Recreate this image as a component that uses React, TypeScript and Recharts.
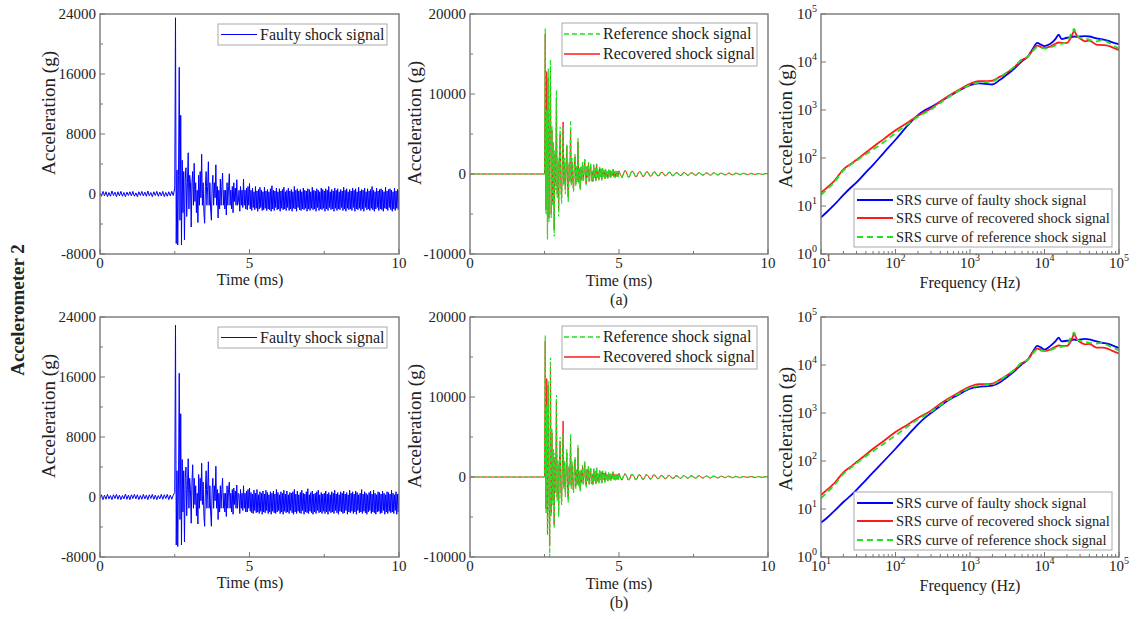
import React from "react";
import { Line, LineChart, XAxis, YAxis } from "recharts";

const FONT = "'Liberation Serif', 'Times New Roman', serif";
const FRAME = "#777";
const INK = "#222";
const BLUE = "#0000ff";
const RED = "#ff1a1a";
const GREEN = "#22e022";

// ---- time-domain sampling (ms) ----
const PRE_DT = 0.05; // 0 .. 2.45
const SHOCK_T0 = 2.5; // 2.5 .. 4.975
const SHOCK_DT = 0.025;
const TAIL_T0 = 5; // 5 .. 10
const FAULTY_TAIL_DT = 0.025;
const CLEAN_TAIL_DT = 0.05;
const QUIET_T = [0, 2.475];
const QUIET_G = [0, 0];

// faulty shock signal, (a)
const FAULTY_A_PRE = [
  150, -300, 350, -250, 300, -350, 200, -300, 400, -200,
  250, -350, 300, -250, 350, -300, 200, -350, 250, -200,
  300, -250, 350, -300, 150, -350, 300, -200, 350, -250,
  250, -300, 400, -250, 200, -350, 300, -200, 350, -300,
  250, -250, 350, -350, 200, -300, 300, -250, 350, -200,
];
const FAULTY_A_SHOCK = [
  800, 23500, -6600, 3200, -6800, 2500, 16900, -3500, 10500, -6800,
  4500, -2500, 3000, -6100, 2000, 3500, -3000, 1500, 5500, -2000,
  2500, 1500, -4400, 1500, 3000, -1500, 4100, -1000, 1500, -2500,
  500, -3800, 2500, -1500, 3000, -500, 5300, -1500, 1500, -2500,
  -3900, 1000, 3000, -1500, 1000, 4300, -1500, 1500, -2000, -3500,
  1000, 2500, -1500, 1500, -500, 3900, -1500, 1000, -3200, 500,
  -2000, 2000, -1500, 1000, 2800, -1500, 500, -2000, 500, -2800,
  1500, -1500, 1000, 2700, -1500, 500, -2000, 1000, -2500, 1500,
  -1000, 800, -1500, 1900, -1500, -1000, 500, -2300, 1000, -1500,
  500, -1800, 2000, -1500, 500, -2000, 800, -2100, 1000, -1500,
];
const FAULTY_A_TAIL = [
  1400, -2000, 500, -2200, 800, -1800, 300, -2100, 1000, -1900,
  400, -2300, 600, -2000, 900, -1800, 500, -2200, 300, -2100,
  900, -1900, 400, -2200, 600, -2000, 300, -2100, 700, -2300,
  1100, -2000, 500, -2200, 400, -1800, 800, -2100, 300, -2000,
  700, -2300, 400, -1900, 600, -2100, 900, -2000, 300, -2200,
  500, -1800, 800, -2200, 400, -2000, 600, -2300, 300, -1900,
  1000, -2000, 500, -2300, 700, -1800, 400, -2100, 600, -2200,
  300, -2000, 800, -2100, 500, -1900, 400, -2300, 700, -2000,
  600, -2200, 300, -1900, 900, -2100, 500, -2000, 400, -2300,
  700, -1800, 500, -2200, 300, -2000, 800, -2100, 600, -1900,
  400, -2300, 700, -2000, 500, -2200, 1000, -1800, 300, -2100,
  600, -2000, 400, -2300, 800, -1900, 500, -2200, 700, -2000,
  300, -2100, 600, -1800, 400, -2200, 900, -2000, 500, -2300,
  700, -1900, 300, -2100, 600, -2000, 400, -2200, 800, -1800,
  500, -2300, 700, -2000, 300, -2100, 900, -1900, 400, -2200,
  600, -2000, 500, -2300, 800, -1800, 300, -2100, 700, -2000,
  400, -2200, 600, -1900, 1000, -2100, 500, -2300, 300, -2000,
  800, -1800, 400, -2200, 600, -2000, 700, -2100, 500, -2300,
  300, -1900, 900, -2000, 400, -2200, 600, -1800, 700, -2100,
  500, -2300, 300, -2000, 800, -2200, 400, -1900, 600, -2100,
  500,
];

// reference / recovered shock signals, (a)
const REF_A_SHOCK = [
  0, 18200, -5000, 8000, -8200, 13200, -6000, 5000, 14300, -5500,
  6000, -4000, 4000, -7800, 3000, -2000, 10500, -3000, 2000, -5300,
  2500, 5900, -2000, -3700, 2000, 5900, -1500, 2000, -2500, 1000,
  3800, -2000, -3500, 1500, -1000, 6700, -1500, 2000, -1000, -2200,
  1500, 2500, -1500, 1000, -1000, 4500, -1200, 800, -2000, 1000,
  -800, 1500, -1000, 500, 2000, -800, -1400, 1000, -500, 1500,
  -1000, 600, 1300, -900, 400, -1000, 1200, -500, 800, -900,
  1300, -600, 500, -800, 900, -400, 700, -800, 800, -300,
  500, -700, 700, -400, 300, -600, 600, -300, 500, -500,
  400, -200, 700, -400, 300, -500, 400, -300, 300, -400,
];
const REF_A_TAIL = [
  300, -200, -400, 100, 400, 200, -300, -350, 200, 350,
  100, -300, -250, 200, 300, 0, -300, -200, 200, 250,
  0, -250, -150, 200, 250, 0, -200, -150, 150, 200,
  0, -200, -150, 150, 200, 0, -200, -100, 150, 150,
  0, -150, -150, 100, 150, 50, -150, -100, 100, 150,
  0, -150, -100, 100, 150, 0, -100, -100, 100, 100,
  0, -100, -100, 100, 100, 0, -100, -50, 100, 100,
  0, -100, -50, 50, 100, 0, -100, -50, 50, 100,
  0, -50, -50, 50, 50, 0, -50, -50, 50, 50,
  0, -50, -50, 50, 50, 0, -50, -50, 50, 50,
  0,
];
const REC_A_SHOCK = [
  0, 17500, -4500, 12800, -7500, 12000, -5500, 4500, 13000, -5000,
  5500, -3500, 3500, -7000, 2500, -1500, 9500, -2500, 1500, -4500,
  2000, 5000, -1500, -3000, 1500, 6500, -1200, 1500, -2000, 800,
  3500, -1800, -3000, 1200, -800, 5500, -1200, 1500, -800, -2000,
  1200, 2200, -1200, 800, -800, 4000, -1000, 600, -1800, 800,
  -600, 1300, -800, 400, 1800, -700, -1200, 900, -400, 1300,
  -900, 500, 1200, -800, 300, -900, 1100, -400, 700, -800,
  1200, -500, 400, -700, 800, -300, 600, -700, 700, -300,
  500, -600, 600, -300, 300, -500, 500, -300, 400, -400,
  300, -200, 600, -300, 300, -400, 300, -300, 300, -300,
];
const REC_A_TAIL = [
  400, -100, -450, 0, 450, 250, -350, -400, 150, 400,
  150, -350, -300, 150, 350, 50, -350, -250, 200, 300,
  50, -300, -200, 200, 300, 0, -250, -200, 150, 250,
  0, -250, -150, 150, 250, 0, -250, -150, 150, 200,
  0, -200, -150, 150, 200, 0, -200, -100, 150, 150,
  0, -150, -150, 100, 150, 0, -150, -100, 100, 150,
  0, -150, -100, 100, 150, 0, -100, -100, 100, 100,
  0, -100, -100, 100, 100, 0, -100, -50, 100, 100,
  0, -100, -50, 50, 100, 0, -100, -50, 50, 100,
  0, -50, -50, 50, 50, 0, -50, -50, 50, 50,
  0,
];

// faulty shock signal, (b)
const FAULTY_B_PRE = [
  -200, 300, -350, 250, -300, 350, -250, 200, -350, 300,
  -200, 350, -300, 250, -350, 200, -250, 400, -300, 250,
  -350, 300, -200, 350, -250, 300, -350, 200, -300, 350,
  -250, 250, -350, 300, -200, 350, -300, 250, -350, 200,
  -250, 350, -300, 300, -200, 350, -350, 250, -300, 250,
];
const FAULTY_B_SHOCK = [
  600, 22900, -6400, 3500, -6600, 2000, 16500, -3000, 11100, -6400,
  5000, -2000, 3500, -6000, 2500, 4000, -2500, 1500, 5100, -1500,
  2500, 1000, -3500, 2000, 4300, -1500, 2500, -1000, 1500, -2500,
  500, -3600, 3000, -1500, 2500, -500, 4500, -1000, 2000, -2500,
  -3900, 1000, 3500, -1500, 1000, 4700, -1500, 1500, -2000, -3900,
  1000, 2500, -1500, 1500, -500, 4100, -1500, 1000, -3000, 500,
  -2000, 1500, -1500, 1000, 2500, -1500, 500, -2000, 500, -2600,
  1500, -1500, 1000, 2000, -1500, 500, -2000, 1000, -2300, 1200,
  -1000, 800, -1500, 1600, -1500, 500, 300, -2200, 1000, -1500,
  500, -1800, 1500, -1500, 500, -2000, 800, -2000, 1000, -1500,
];
const FAULTY_B_TAIL = [
  1200, -1900, 600, -2100, 400, -2200, 900, -1800, 500, -2100,
  1000, -2000, 300, -2200, 700, -1900, 500, -2300, 800, -2000,
  400, -2100, 900, -1800, 600, -2200, 300, -2000, 700, -2300,
  500, -1900, 800, -2100, 400, -2200, 1000, -2000, 600, -1800,
  300, -2200, 700, -2000, 500, -2300, 900, -1900, 400, -2100,
  800, -2000, 300, -2200, 600, -1800, 500, -2100, 700, -2300,
  1000, -2000, 400, -2200, 800, -1900, 300, -2100, 600, -2200,
  900, -1800, 500, -2300, 400, -2000, 700, -2100, 1100, -2200,
  300, -1900, 600, -2100, 800, -2300, 400, -2000, 500, -2200,
  700, -1800, 900, -2100, 300, -2000, 600, -2200, 400, -1900,
  500, -2200, 800, -2000, 400, -2300, 600, -1900, 300, -2100,
  700, -2000, 500, -2200, 900, -1800, 400, -2100, 600, -2300,
  300, -1900, 700, -2000, 500, -2200, 800, -2100, 400, -1800,
  600, -2300, 300, -2000, 900, -2100, 500, -1900, 700, -2200,
  400, -2000, 800, -2300, 600, -1800, 300, -2100, 500, -2000,
  1000, -2200, 400, -1900, 700, -2100, 500, -2300, 300, -2000,
  600, -1800, 800, -2200, 400, -2000, 900, -2100, 500, -2300,
  300, -2000, 700, -1900, 600, -2200, 400, -2100, 800, -1800,
  500, -2300, 300, -2000, 700, -2200, 600, -1900, 400, -2100,
  900, -2000, 500, -2200, 300, -1800, 700, -2300, 400, -2000,
  500,
];

// reference / recovered shock signals, (b)
const REF_B_SHOCK = [
  0, 17700, -4500, 9000, -7250, 12000, -3000, -9950, 14900, -5000,
  6000, -3500, 3500, -6400, 3000, -2000, 10250, -3000, 2000, -5000,
  2500, 5000, -2000, -3500, 2000, 5500, -1500, 2000, -2500, 1000,
  3500, -2000, -3200, 1500, -1000, 5450, -1500, 2000, -1000, -2000,
  1500, 2500, -1500, 1000, -1000, 4000, -1200, 800, -1800, 1000,
  -800, 1500, -1000, 500, 2000, -800, -1300, 1000, -500, 1400,
  -1000, 600, 1200, -900, 400, -1000, 1100, -500, 800, -900,
  1200, -600, 500, -800, 900, -400, 700, -800, 800, -300,
  500, -700, 700, -400, 300, -600, 600, -300, 500, -500,
  400, -200, 700, -400, 300, -500, 400, -300, 300, -400,
];
const REF_B_TAIL = [
  350, -150, -400, 150, 400, 150, -300, -300, 250, 300,
  50, -300, -200, 250, 250, -50, -300, -150, 250, 200,
  -50, -250, -100, 200, 200, -50, -200, -100, 200, 150,
  -50, -200, -100, 150, 150, -50, -150, -100, 150, 100,
  0, -150, -100, 150, 100, 0, -150, -50, 100, 100,
  0, -100, -100, 100, 100, 0, -100, -50, 100, 100,
  0, -100, -50, 100, 50, 0, -100, -50, 50, 50,
  0, -50, -50, 50, 50, 0, -50, -50, 50, 50,
  0, -50, -50, 50, 50, 0, -50, 0, 50, 50,
  0, -50, 0, 50, 50, 0, -50, 0, 50, 0,
  0,
];
const REC_B_SHOCK = [
  0, 17000, -4000, 12300, -7000, 11500, -2500, -8500, 13800, -4500,
  5500, -3000, 3000, -6000, 2500, -1500, 9500, -2500, 1500, -4500,
  2000, 4500, -1500, -3000, 1500, 7000, -1200, 1500, -2000, 800,
  3000, -1800, -2800, 1200, -800, 4800, -1200, 1500, -800, -1800,
  1200, 2200, -1200, 800, -800, 3600, -1000, 600, -1600, 800,
  -600, 1300, -800, 400, 1800, -700, -1100, 900, -400, 1300,
  -900, 500, 1100, -800, 300, -900, 1000, -400, 700, -800,
  1100, -500, 400, -700, 800, -300, 600, -700, 700, -300,
  500, -600, 600, -300, 300, -500, 500, -300, 400, -400,
  300, -200, 600, -300, 300, -400, 300, -300, 300, -300,
];
const REC_B_TAIL = [
  450, -100, -400, 50, 400, 200, -350, -350, 200, 350,
  100, -350, -250, 200, 300, 0, -300, -200, 250, 250,
  0, -300, -150, 250, 250, 0, -250, -150, 200, 200,
  0, -250, -150, 200, 200, 0, -200, -150, 150, 200,
  0, -200, -100, 150, 150, 0, -200, -100, 150, 150,
  0, -150, -100, 150, 150, 0, -150, -100, 100, 100,
  0, -150, -100, 100, 100, 0, -100, -100, 100, 100,
  0, -100, -50, 100, 100, 0, -100, -50, 100, 50,
  0, -100, -50, 50, 50, 0, -50, -50, 50, 50,
  0, -50, -50, 50, 50, 0, -50, 0, 50, 50,
  0,
];

// ---- shock response spectra ----
const FREQ = [
  10, 12, 15, 20, 25, 30, 40, 50, 70, 100,
  150, 200, 250, 300, 400, 500, 700, 1000, 1300, 1600,
  2000, 2500, 3000, 4000, 5000, 6000, 7000, 8000, 9000, 10000,
  12000, 14000, 15500, 17000, 20000, 23000, 25000, 27000, 30000, 35000,
  40000, 50000, 60000, 70000, 80000, 100000,
];
const SRS_FAULTY_A = [
  5.8, 7.5, 10.5, 17, 24, 31, 50, 72, 130, 240,
  500, 780, 1000, 1150, 1500, 1850, 2500, 3300, 3600, 3500,
  3400, 4200, 5200, 7500, 10500, 13000, 19000, 25000, 23000, 21500,
  24000, 30000, 37000, 30000, 32000, 33000, 34000, 33500, 34000, 34500,
  34000, 31000, 29500, 28000, 26000, 23500,
];
const SRS_REC_A = [
  19, 24, 33, 58, 75, 92, 130, 170, 250, 380,
  560, 760, 920, 1080, 1500, 1900, 2600, 3500, 4000, 4000,
  4100, 4900, 5700, 8000, 11000, 13000, 18000, 22000, 20500, 19500,
  21000, 24000, 25500, 25000, 25000, 34000, 44000, 36000, 31000, 27000,
  28000, 23000, 22500, 22000, 20500, 17700,
];
const SRS_REF_A = [
  17, 22, 31, 55, 72, 88, 120, 150, 215, 330,
  520, 720, 880, 1030, 1400, 1800, 2500, 3300, 3700, 3800,
  3900, 4800, 5800, 8200, 11500, 13000, 17000, 20500, 20000, 19000,
  20000, 22000, 23000, 24000, 26000, 40000, 49000, 35000, 32000, 31000,
  29000, 27000, 29000, 26000, 23000, 19000,
];
const SRS_FAULTY_B = [
  5.2, 6.5, 9, 14, 19, 25, 40, 58, 100, 180,
  360, 580, 800, 1000, 1400, 1800, 2400, 3200, 3500, 3600,
  3700, 4300, 5300, 7600, 10500, 13000, 19000, 25000, 23000, 21000,
  25000, 31000, 37000, 31000, 32000, 33000, 34000, 33000, 34000, 35000,
  34000, 31000, 29000, 28000, 26000, 22500,
];
const SRS_REC_B = [
  19.6, 25, 34, 58, 76, 95, 135, 180, 265, 400,
  590, 790, 950, 1120, 1550, 1950, 2650, 3550, 4000, 4000,
  4100, 4900, 5800, 8000, 11000, 13000, 18500, 22000, 20500, 19500,
  21000, 24000, 25500, 25000, 25000, 33000, 44000, 35000, 30000, 27000,
  27500, 23000, 23000, 22000, 20000, 17500,
];
const SRS_REF_B = [
  16.7, 22, 31, 54, 72, 90, 125, 160, 230, 340,
  540, 740, 900, 1060, 1450, 1850, 2500, 3350, 3700, 3800,
  3900, 4800, 5800, 8100, 11500, 13000, 17500, 21000, 20000, 19500,
  20500, 22500, 23000, 24000, 25500, 40000, 48000, 35000, 32000, 31000,
  29000, 28000, 29000, 26000, 23500, 20000,
];

// ---- ticks ----
const TIME_TICKS = [0, 2.5, 5, 7.5, 10];
const FAULTY_TICKS = [-8000, -4000, 0, 4000, 8000, 12000, 16000, 20000, 24000];
const CLEAN_TICKS = [-10000, -5000, 0, 5000, 10000, 15000, 20000];
const DECADES = [10, 100, 1000, 10000];
const FREQ_TICKS = [...DECADES.flatMap((d) => [1, 2, 3, 4, 5, 6, 7, 8, 9].map((m) => d * m)), 100000];
const SRS_TICKS = [1, 10, 100, 1000, 10000, 100000];

type Pt = { t: number; v: number };

const seg = (t0: number, dt: number, g: number[]): Pt[] =>
  g.map((v, i) => ({ t: Math.round((t0 + i * dt) * 1000) / 1000, v }));

const faulty = (pre: number[], shock: number[], tail: number[]) => [
  ...seg(0, PRE_DT, pre),
  ...seg(SHOCK_T0, SHOCK_DT, shock),
  ...seg(TAIL_T0, FAULTY_TAIL_DT, tail),
];

const clean = (shock: number[], tail: number[]) => [
  ...QUIET_T.map((t, i) => ({ t, v: QUIET_G[i] })),
  ...seg(SHOCK_T0, SHOCK_DT, shock),
  ...seg(TAIL_T0, CLEAN_TAIL_DT, tail),
];

const srs = (g: number[]): Pt[] => FREQ.map((f, i) => ({ t: f, v: g[i] }));

const isDecade = (v: number) => Math.abs(Math.log10(v) - Math.round(Math.log10(v))) < 1e-9;

type Series = { data: Pt[]; color: string; width: number; dash?: string; smooth?: boolean };

type PanelProps = {
  left: number;
  top: number;
  w: number;
  h: number;
  log?: boolean;
  xDomain: [number, number];
  xTicks: number[];
  xMajor: (v: number) => boolean;
  yDomain: [number, number];
  yTicks: number[];
  yMajor: (v: number) => boolean;
  series: Series[];
};

const TXT = { fontFamily: FONT };

function Label10({ v }: { v: number }) {
  return (
    <>
      <tspan>10</tspan>
      <tspan dy={-7} fontSize={10}>
        {Math.round(Math.log10(v))}
      </tspan>
    </>
  );
}

function Panel({ left, top, w, h, log, xDomain, xTicks, xMajor, yDomain, yTicks, yMajor, series }: PanelProps) {
  const ml = 90;
  const mt = 10;
  const mr = 15;
  const mb = 45;
  return (
    <div style={{ position: "absolute", left: left - ml, top: top - mt }}>
      <LineChart width={w + ml + mr} height={h + mt + mb} margin={{ top: mt, right: mr, bottom: 0, left: 0 }}>
        <XAxis
          type="number"
          dataKey="t"
          domain={xDomain}
          scale={log ? "log" : "linear"}
          allowDataOverflow
          ticks={xTicks}
          interval={0}
          height={mb}
          axisLine={false}
          tickLine={false}
          tickSize={0}
          tickMargin={0}
          tick={(p: any) => {
            const major = xMajor(p.payload.value);
            return (
              <g>
                <line x1={p.x} x2={p.x} y1={p.y} y2={p.y - (major ? 5 : 3)} stroke={FRAME} />
                {major && (
                  <text x={p.x} y={p.y + 14} textAnchor="middle" fontSize={15} style={TXT} fill={INK}>
                    {log ? <Label10 v={p.payload.value} /> : p.payload.value}
                  </text>
                )}
              </g>
            );
          }}
        />
        <YAxis
          type="number"
          domain={yDomain}
          scale={log ? "log" : "linear"}
          allowDataOverflow
          ticks={yTicks}
          interval={0}
          width={ml}
          axisLine={false}
          tickLine={false}
          tickSize={0}
          tickMargin={0}
          tick={(p: any) => {
            const major = yMajor(p.payload.value);
            return (
              <g>
                <line x1={p.x} x2={p.x + (major ? 5 : 3)} y1={p.y} y2={p.y} stroke={FRAME} />
                {major && (
                  <text x={p.x - 4} y={p.y + 5} textAnchor="end" fontSize={15} style={TXT} fill={INK}>
                    {log ? <Label10 v={p.payload.value} /> : p.payload.value}
                  </text>
                )}
              </g>
            );
          }}
        />
        {series.map((s, i) => (
          <Line
            key={i}
            data={s.data}
            dataKey="v"
            type={s.smooth ? "monotone" : "linear"}
            stroke={s.color}
            strokeWidth={s.width}
            strokeDasharray={s.dash}
            dot={false}
            activeDot={false}
            isAnimationActive={false}
          />
        ))}
      </LineChart>
    </div>
  );
}

const ROWS = [
  {
    top: 14,
    caption: "(a)",
    faulty: faulty(FAULTY_A_PRE, FAULTY_A_SHOCK, FAULTY_A_TAIL),
    ref: clean(REF_A_SHOCK, REF_A_TAIL),
    rec: clean(REC_A_SHOCK, REC_A_TAIL),
    srsFaulty: srs(SRS_FAULTY_A),
    srsRec: srs(SRS_REC_A),
    srsRef: srs(SRS_REF_A),
  },
  {
    top: 317,
    caption: "(b)",
    faulty: faulty(FAULTY_B_PRE, FAULTY_B_SHOCK, FAULTY_B_TAIL),
    ref: clean(REF_B_SHOCK, REF_B_TAIL),
    rec: clean(REC_B_SHOCK, REC_B_TAIL),
    srsFaulty: srs(SRS_FAULTY_B),
    srsRec: srs(SRS_REC_B),
    srsRef: srs(SRS_REF_B),
  },
];

const H = 240;
const P1 = { left: 100, w: 299 };
const P2 = { left: 470, w: 298 };
const P3 = { left: 821, w: 298 };

function LegendRow({ x, y, color, dash, width, label, size }: any) {
  return (
    <g>
      <line x1={x} x2={x + 36} y1={y} y2={y} stroke={color} strokeWidth={width} strokeDasharray={dash} />
      <text x={x + 39} y={y + 5} fontSize={size} style={TXT} fill={INK}>
        {label}
      </text>
    </g>
  );
}

function Overlay() {
  return (
    <svg width={1137} height={619} style={{ position: "absolute", left: 0, top: 0, pointerEvents: "none" }}>
      <text
        transform="translate(24 310) rotate(-90)"
        textAnchor="middle"
        fontSize={19}
        fontWeight="bold"
        style={TXT}
        fill={INK}
      >
        Accelerometer 2
      </text>
      {ROWS.map((r) => {
        const t = r.top;
        const dy = t - 14;
        return (
          <g key={r.caption}>
            {[P1, P2, P3].map((p, i) => (
              <rect key={i} x={p.left} y={t} width={p.w} height={H} fill="none" stroke={FRAME} strokeWidth={1.4} />
            ))}
            {/* axis titles */}
            <text transform={`translate(55 ${t + 99}) rotate(-90)`} textAnchor="middle" fontSize={19} style={TXT} fill={INK}>
              Acceleration (g)
            </text>
            <text transform={`translate(421 ${t + 109}) rotate(-90)`} textAnchor="middle" fontSize={19} style={TXT} fill={INK}>
              Acceleration (g)
            </text>
            <text transform={`translate(792 ${t + 112}) rotate(-90)`} textAnchor="middle" fontSize={19} style={TXT} fill={INK}>
              Acceleration (g)
            </text>
            <text x={250} y={t + H + 31} textAnchor="middle" fontSize={16} style={TXT} fill={INK}>
              Time (ms)
            </text>
            <text x={619} y={t + H + 32} textAnchor="middle" fontSize={16} style={TXT} fill={INK}>
              Time (ms)
            </text>
            <text x={970} y={t + H + 34} textAnchor="middle" fontSize={16} style={TXT} fill={INK}>
              Frequency (Hz)
            </text>
            <text x={619} y={t + H + 51} textAnchor="middle" fontSize={16} style={TXT} fill={INK}>
              {r.caption}
            </text>
            {/* legends */}
            <rect x={218} y={24 + dy} width={169} height={21} fill="#fff" stroke="#aaa" />
            <LegendRow x={221} y={34.5 + dy} color={BLUE} width={1.2} label="Faulty shock signal" size={16} />
            <rect x={562} y={23 + dy} width={195} height={43} fill="#fff" stroke="#aaa" />
            <LegendRow x={564} y={34 + dy} color={GREEN} width={1.5} dash="5 3" label="Reference shock signal" size={16} />
            <LegendRow x={564} y={54 + dy} color={RED} width={1.5} label="Recovered shock signal" size={16} />
            <rect x={854} y={189 + dy} width={258} height={58} fill="#fff" stroke="#aaa" />
            <LegendRow x={857} y={200 + dy} color={BLUE} width={2} label="SRS curve of faulty shock signal" size={14.5} />
            <LegendRow x={857} y={218 + dy} color={RED} width={2} label="SRS curve of recovered shock signal" size={14.5} />
            <LegendRow x={857} y={237 + dy} color={GREEN} width={2} dash="6 4" label="SRS curve of reference shock signal" size={14.5} />
          </g>
        );
      })}
    </svg>
  );
}

export default function App() {
  return (
    <div style={{ position: "absolute", left: 0, top: 0, width: 1137, height: 619, background: "#fff", fontFamily: FONT }}>
      {ROWS.map((r) => (
        <React.Fragment key={r.caption}>
          <Panel
            left={P1.left}
            top={r.top}
            w={P1.w}
            h={H}
            xDomain={[0, 10]}
            xTicks={TIME_TICKS}
            xMajor={(v) => v % 5 === 0}
            yDomain={[-8000, 24000]}
            yTicks={FAULTY_TICKS}
            yMajor={(v) => v % 8000 === 0}
            series={[{ data: r.faulty, color: BLUE, width: 1 }]}
          />
          <Panel
            left={P2.left}
            top={r.top}
            w={P2.w}
            h={H}
            xDomain={[0, 10]}
            xTicks={TIME_TICKS}
            xMajor={(v) => v % 5 === 0}
            yDomain={[-10000, 20000]}
            yTicks={CLEAN_TICKS}
            yMajor={(v) => v % 10000 === 0}
            series={[
              { data: r.rec, color: RED, width: 1 },
              { data: r.ref, color: GREEN, width: 1.2, dash: "4 2" },
            ]}
          />
          <Panel
            left={P3.left}
            top={r.top}
            w={P3.w}
            h={H}
            log
            xDomain={[10, 100000]}
            xTicks={FREQ_TICKS}
            xMajor={isDecade}
            yDomain={[1, 100000]}
            yTicks={SRS_TICKS}
            yMajor={isDecade}
            series={[
              { data: r.srsFaulty, color: BLUE, width: 1.8, smooth: true },
              { data: r.srsRec, color: RED, width: 1.8, smooth: true },
              { data: r.srsRef, color: GREEN, width: 1.8, dash: "6 4", smooth: true },
            ]}
          />
        </React.Fragment>
      ))}
      <Overlay />
    </div>
  );
}
